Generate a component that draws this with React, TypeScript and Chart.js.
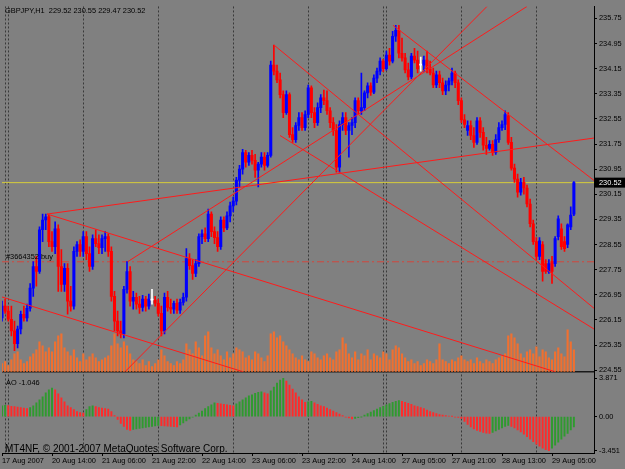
import { useEffect, useRef } from 'react';
import { Chart, registerables } from 'chart.js';

Chart.register(...registerables);

const symbol = 'GBPJPY';
const timeframe = 'H1';

// [open, high, low, close] per hourly bar
const candles: [number, number, number, number][] = [
  [226.21, 226.75, 226.11, 226.59], [226.59, 226.81, 226.36, 226.43], [226.43, 226.59, 226.11, 226.17], [226.17, 226.59, 225.64, 225.80],
  [225.80, 226.11, 225.17, 225.39], [225.39, 225.95, 225.26, 225.86], [225.86, 226.43, 225.70, 226.33], [226.33, 226.59, 226.11, 226.21],
  [226.21, 226.65, 226.11, 226.52], [226.52, 227.31, 226.43, 227.16], [227.16, 228.01, 226.90, 227.85], [227.85, 228.17, 227.22, 227.69],
  [227.69, 229.11, 227.63, 229.02], [229.02, 229.52, 228.64, 229.33], [229.33, 229.52, 229.02, 229.43], [229.43, 229.49, 228.48, 228.64],
  [228.64, 228.96, 228.33, 228.48], [228.48, 229.27, 228.26, 229.05], [229.05, 229.18, 227.06, 227.85], [227.85, 228.39, 227.06, 227.28],
  [227.28, 227.94, 227.06, 227.79], [227.79, 227.94, 226.33, 226.75], [226.75, 227.22, 226.43, 226.59], [226.59, 228.48, 226.49, 228.33],
  [228.33, 228.64, 228.17, 228.55], [228.55, 228.70, 228.17, 228.33], [228.33, 228.96, 228.17, 228.80], [228.80, 228.96, 228.07, 228.26],
  [228.26, 228.48, 227.69, 227.85], [227.85, 228.86, 227.76, 228.74], [228.74, 229.02, 228.48, 228.58], [228.58, 228.86, 228.26, 228.45],
  [228.45, 228.86, 228.26, 228.74], [228.74, 228.96, 228.33, 228.80], [228.80, 228.89, 228.17, 228.33], [228.33, 228.48, 226.75, 226.90],
  [226.90, 227.06, 225.80, 226.11], [226.11, 226.43, 225.64, 225.80], [225.80, 226.11, 225.58, 225.70], [225.70, 227.22, 225.58, 227.12],
  [227.12, 228.01, 227.00, 227.69], [227.69, 227.85, 226.59, 226.75], [226.75, 227.06, 226.49, 226.87], [226.87, 227.00, 226.49, 226.65],
  [226.65, 226.90, 226.36, 226.55], [226.55, 226.93, 226.43, 226.81], [226.81, 226.90, 226.43, 226.59], [226.59, 226.97, 226.49, 226.81],
  [226.78, 227.12, 226.65, 226.78], [226.78, 226.90, 226.59, 226.68], [226.68, 226.81, 226.27, 226.36], [226.36, 226.59, 225.64, 225.80],
  [225.80, 227.00, 225.70, 226.87], [226.87, 227.06, 226.43, 226.55], [226.55, 226.81, 226.36, 226.49], [226.49, 226.75, 226.36, 226.68],
  [226.68, 226.81, 226.36, 226.46], [226.46, 226.81, 226.36, 226.71], [226.71, 227.00, 226.62, 226.87], [226.87, 228.42, 226.75, 228.10],
  [228.10, 228.26, 227.76, 227.88], [227.88, 228.07, 227.44, 227.63], [227.63, 228.07, 227.53, 227.94], [227.94, 228.89, 227.85, 228.80],
  [228.80, 229.02, 228.58, 228.89], [228.89, 229.08, 228.64, 228.74], [228.74, 229.68, 228.64, 229.52], [229.52, 229.59, 228.80, 228.96],
  [228.96, 229.11, 228.58, 228.77], [228.77, 228.96, 228.33, 228.48], [228.48, 229.43, 228.39, 229.33], [229.33, 229.43, 228.96, 229.08],
  [229.08, 229.59, 229.02, 229.46], [229.46, 229.90, 229.27, 229.78], [229.78, 230.06, 229.59, 229.93], [229.93, 230.69, 229.81, 230.60],
  [230.60, 231.07, 230.38, 230.95], [230.95, 231.58, 230.79, 231.48], [231.48, 231.55, 231.01, 231.17], [231.17, 231.48, 231.07, 231.39],
  [231.39, 231.55, 231.11, 231.23], [231.23, 231.42, 230.69, 230.92], [230.92, 231.17, 230.38, 231.11], [231.11, 231.48, 231.01, 231.33],
  [231.33, 231.48, 230.92, 231.07], [231.07, 231.48, 231.01, 231.39], [231.39, 234.39, 231.33, 234.26], [234.26, 234.90, 233.95, 234.07],
  [234.07, 234.26, 233.70, 233.79], [233.79, 234.01, 233.22, 233.32], [233.32, 233.44, 232.59, 232.75], [232.75, 233.44, 232.69, 233.32],
  [233.32, 233.38, 231.96, 232.05], [232.05, 232.27, 231.80, 231.89], [231.89, 232.43, 231.80, 232.34], [232.34, 232.75, 232.18, 232.59],
  [232.59, 232.75, 232.18, 232.27], [232.27, 232.81, 232.18, 232.69], [232.69, 233.63, 232.59, 233.54], [233.54, 233.60, 232.59, 232.75],
  [232.75, 232.91, 232.27, 232.43], [232.43, 233.06, 232.34, 232.91], [232.91, 233.32, 232.75, 233.22], [233.22, 233.47, 233.00, 233.13],
  [233.13, 233.44, 232.69, 232.81], [232.81, 232.91, 232.27, 232.43], [232.43, 232.59, 232.02, 232.18], [232.18, 232.37, 230.85, 231.01],
  [231.01, 232.49, 230.85, 232.37], [232.37, 232.75, 232.18, 232.59], [232.59, 232.75, 232.05, 232.18], [232.18, 232.43, 231.33, 232.34],
  [232.34, 232.59, 232.05, 232.43], [232.43, 233.22, 232.27, 233.13], [233.13, 233.22, 232.69, 232.81], [232.81, 234.01, 232.69, 232.91],
  [232.91, 233.44, 232.81, 233.38], [233.38, 233.70, 233.22, 233.60], [233.60, 233.70, 233.30, 233.40], [233.40, 233.95, 233.35, 233.85],
  [233.85, 234.17, 233.70, 234.07], [234.07, 234.49, 233.95, 234.39], [234.39, 234.45, 234.05, 234.15], [234.15, 234.71, 234.10, 234.58],
  [234.58, 234.80, 234.26, 234.39], [234.39, 235.34, 234.33, 235.18], [235.18, 235.53, 235.02, 235.37], [235.37, 235.53, 234.49, 234.64],
  [234.64, 235.12, 234.39, 234.49], [234.49, 234.64, 234.01, 234.11], [234.11, 234.33, 233.79, 233.89], [233.89, 234.64, 233.82, 234.55],
  [234.55, 234.80, 234.33, 234.42], [234.42, 234.71, 234.01, 234.14], [234.26, 234.52, 234.07, 234.26], [234.26, 234.55, 234.07, 234.42],
  [234.42, 234.71, 234.01, 234.14], [234.14, 234.39, 233.95, 234.01], [234.01, 234.17, 233.54, 233.63], [233.63, 234.07, 233.54, 233.95],
  [233.95, 234.07, 233.54, 233.70], [233.70, 233.85, 233.32, 233.44], [233.44, 233.76, 233.32, 233.63], [233.63, 233.85, 233.44, 233.76],
  [233.76, 234.17, 233.63, 234.01], [234.01, 234.07, 233.54, 233.70], [233.70, 233.79, 233.00, 233.13], [233.13, 233.22, 232.43, 232.52],
  [232.52, 232.69, 232.27, 232.37], [232.18, 232.49, 232.02, 232.34], [232.34, 232.49, 231.89, 232.02], [232.02, 232.27, 231.64, 231.80],
  [231.80, 232.59, 231.74, 232.49], [232.49, 232.59, 231.96, 232.12], [232.12, 232.27, 231.55, 231.71], [231.71, 231.96, 231.42, 231.61],
  [231.61, 231.86, 231.55, 231.74], [231.74, 231.86, 231.39, 231.48], [231.48, 232.05, 231.42, 231.89], [231.89, 232.43, 231.80, 232.27],
  [232.27, 232.49, 232.18, 232.37], [232.37, 232.81, 232.21, 232.69], [232.65, 232.75, 231.74, 231.80], [231.80, 231.96, 230.92, 230.98],
  [230.98, 231.11, 230.53, 230.63], [230.63, 230.79, 230.06, 230.22], [230.22, 230.66, 230.12, 230.53], [230.53, 230.69, 230.15, 230.35],
  [230.35, 230.44, 229.75, 229.84], [229.84, 230.00, 229.11, 229.21], [229.21, 229.33, 228.55, 228.64], [228.64, 228.77, 228.07, 228.17],
  [228.17, 228.77, 228.07, 228.67], [228.55, 228.64, 227.38, 227.69], [227.94, 228.07, 227.63, 227.69], [227.69, 228.07, 227.63, 227.94],
  [228.01, 228.17, 227.31, 227.69], [227.94, 228.80, 227.85, 228.74], [228.80, 229.46, 228.70, 229.37], [229.05, 229.21, 228.39, 228.48],
  [228.64, 228.80, 228.33, 228.42], [228.55, 229.21, 228.45, 229.18], [229.11, 229.75, 229.02, 229.49], [229.52, 230.55, 229.47, 230.52],
];

const volumes = [
  240, 300, 180, 360, 540, 600, 360, 240, 300, 450,
  540, 660, 900, 780, 600, 720, 600, 900, 1080, 1140,
  720, 600, 480, 660, 420, 300, 540, 360, 450, 540,
  420, 300, 360, 420, 480, 780, 1140, 840, 720, 900,
  780, 540, 360, 300, 240, 360, 180, 300, 150, 240,
  360, 660, 480, 300, 240, 180, 300, 240, 360, 840,
  660, 540, 900, 720, 480, 1080, 1200, 720, 540, 660,
  480, 360, 600, 420, 540, 720, 660, 600, 420, 480,
  360, 600, 540, 420, 300, 480, 1140, 1200, 1020, 1080,
  900, 780, 660, 540, 420, 360, 480, 360, 300, 600,
  540, 420, 360, 480, 540, 420, 360, 600, 660, 1020,
  840, 540, 420, 600, 360, 540, 480, 660, 360, 540,
  480, 420, 600, 540, 360, 660, 780, 720, 540, 420,
  300, 360, 240, 300, 180, 240, 360, 300, 240, 360,
  840, 360, 300, 240, 360, 300, 420, 480, 360, 300,
  360, 240, 420, 300, 240, 360, 300, 240, 360, 420,
  480, 540, 1080, 1140, 1020, 840, 540, 420, 600, 660,
  540, 750, 450, 660, 600, 420, 360, 600, 720, 540,
  450, 1260, 900, 660,
];

const aoValues = [
  1.10, 1.15, 1.12,
  1.05, 1.00, 0.95, 0.90, 0.85, 0.80,
  0.90, 1.10, 1.40, 1.70, 2.00,
  2.40, 2.70, 2.90,
  2.70, 2.30, 1.90, 1.50, 1.10,
  0.90, 0.70, 0.50, 0.40, 0.35,
  0.70, 1.00, 1.10,
  1.00, 0.90, 0.85, 0.80, 0.75,
  0.50, 0.10,
  -0.30, -0.70, -1.00, -1.30, -1.40,
  -1.30, -1.25, -1.20, -1.15, -1.10, -1.05, -1.00, -0.95, -0.90,
  -0.92, -0.95, -0.98, -1.00, -1.02, -1.04,
  -0.85, -0.65, -0.45, -0.25, -0.05,
  0.15, 0.35, 0.55, 0.80, 1.00, 1.20, 1.40,
  1.35, 1.30, 1.25, 1.20, 1.15, 1.10,
  1.30, 1.50, 1.70, 1.90, 2.10, 2.20, 2.35, 2.45, 2.50,
  2.40, 2.30,
  2.60, 3.00, 3.40, 3.70, 3.871,
  3.60, 3.20, 2.80, 2.40, 2.00, 1.70, 1.45, 1.50, 1.55,
  1.40, 1.25, 1.10, 1.00, 0.85, 0.70, 0.55, 0.40,
  0.25, 0.10, -0.05, -0.15, -0.25,
  -0.20, -0.12, -0.02,
  0.15, 0.30, 0.45, 0.60, 0.75, 0.90, 1.05, 1.20, 1.32, 1.45, 1.55, 1.62,
  1.55, 1.45, 1.35, 1.25, 1.10, 1.00, 0.90, 0.80, 0.65, 0.50, 0.40, 0.30,
  0.20, 0.15, 0.10, 0.05, 0.02, -0.05, -0.10, -0.20,
  -0.50, -0.80, -1.05, -1.25, -1.40, -1.52, -1.62, -1.68, -1.72,
  -1.60, -1.45, -1.30, -1.15, -1.00, -0.90,
  -1.00, -1.15, -1.35, -1.55, -1.80, -2.05, -2.30, -2.55, -2.80, -3.00, -3.20, -3.35, -3.451,
  -3.20, -2.90, -2.60, -2.30, -2.00, -1.70, -1.35, -1.046,
];

const timeLabelIndex = [0, 16, 32, 48, 64, 80, 96, 112, 128, 144, 160, 176];
const timeLabels = [
  '17 Aug 2007', '20 Aug 14:00', '21 Aug 06:00', '21 Aug 22:00', '22 Aug 14:00', '23 Aug 06:00',
  '23 Aug 22:00', '24 Aug 14:00', '27 Aug 05:00', '27 Aug 21:00', '28 Aug 13:00', '29 Aug 05:00',
];
const dayStartIndex = [1, 2, 26, 50, 74, 98, 122, 123, 147, 171];
const priceTicks = [235.75, 234.95, 234.15, 233.35, 232.55, 231.75, 230.95, 230.15, 229.35, 228.55, 227.75, 226.95, 226.15, 225.35, 224.55];
const aoTicks = [3.871, 0, -3.451];
const bidPrice = 230.52;
const orderPrice = 228.0;
const orderLabel = '#3664352 buy';
const copyright = 'MT4NF, \u00A9 2001-2007 MetaQuotes Software Corp.';

// trend lines: [startBar, startPrice, endBar, endPrice]
const trendLines: [number, number, number, number][] = [
  [14.4, 229.52, 189.44, 231.94],
  [14.4, 229.52, 176.96, 224.5],
  [0, 226.88, 77.12, 224.5],
  [125.12, 235.53, 189.44, 230.59],
  [87.04, 234.9, 189.44, 226.52],
  [88.96, 232.02, 189.44, 225.86],
  [39.36, 224.5, 155.2, 236.13],
  [40.32, 228.01, 168, 236.13],
];

const priceMin = 224.503;
const priceMax = 236.13;
const aoMin = -3.7;
const aoMax = 4.56;
const barMax = 189.44;
const volMax = 11040;

export default function App() {
  const ref = useRef<HTMLCanvasElement>(null);

  useEffect(() => {
    const canvas = ref.current;
    if (!canvas) return;
    const fontFamily = '"Liberation Sans", Arial, sans-serif';
    const font = { family: fontFamily, size: 7.4 };

    const candleColor = candles.map(([o, , , c]) => (c > o ? '#0000ff' : c < o ? '#ff0000' : '#ffffff'));
    const aoColor = aoValues.map((v, i) => (i === 0 || v > aoValues[i - 1] ? '#2f9a2f' : '#ff2a2a'));

    const alignVol = {
      id: 'alignVol',
      afterLayout(chart: any) {
        const v = chart.scales.yVol;
        const m = chart.scales.y;
        if (!v || !m) return;
        v.top = m.top;
        v.bottom = m.bottom;
        v.height = m.bottom - m.top;
        v.left = m.left;
        v.right = m.left;
        v.configure();
      },
    };

    const overlay = {
      id: 'overlay',
      afterDraw(chart: any) {
        const ctx = chart.ctx as CanvasRenderingContext2D;
        const y = chart.scales.y;
        const ao = chart.scales.yAO;
        const left = chart.chartArea.left;
        const last = candles[candles.length - 1];
        ctx.save();
        ctx.textBaseline = 'middle';
        ctx.textAlign = 'left';
        ctx.fillStyle = '#000';
        ctx.font = `7.4px ${fontFamily}`;
        ctx.fillText(`${symbol},${timeframe}  ${last.map((v) => v.toFixed(2)).join(' ')}`, left + 3, y.top + 5);
        ctx.fillText(`AO ${aoValues[aoValues.length - 1].toFixed(3)}`, left + 4, ao.top + 11);
        ctx.fillText(orderLabel, left + 4, y.getPixelForValue(orderPrice) - 5);
        ctx.font = `10px ${fontFamily}`;
        ctx.fillText(copyright, left + 3, ao.bottom - 4);
        const py = y.getPixelForValue(bidPrice);
        ctx.fillStyle = '#000';
        ctx.fillRect(y.left + 1, py - 5, 30, 10);
        ctx.fillStyle = '#fff';
        ctx.font = `7.4px ${fontFamily}`;
        ctx.fillText(bidPrice.toFixed(2), y.left + 5, py);
        ctx.restore();
      },
    };

    const datasets: any[] = [
      {
        type: 'bar',
        label: 'Volume',
        yAxisID: 'yVol',
        data: volumes.map((v, i) => ({ x: i, y: v })),
        backgroundColor: '#f07030',
        barThickness: 1.5,
        grouped: false,
        order: 10,
      },
      {
        type: 'bar',
        label: 'AO',
        yAxisID: 'yAO',
        data: aoValues.map((v, i) => ({ x: i, y: v })),
        backgroundColor: aoColor,
        barThickness: 1.3,
        grouped: false,
        order: 9,
      },
      {
        type: 'line',
        label: 'Bid',
        yAxisID: 'y',
        data: [{ x: 0, y: bidPrice }, { x: barMax, y: bidPrice }],
        borderColor: '#d6cc3a',
        borderWidth: 1,
        pointRadius: 0,
        order: 8,
      },
      {
        type: 'line',
        label: 'Order',
        yAxisID: 'y',
        data: [{ x: 0, y: orderPrice }, { x: barMax, y: orderPrice }],
        borderColor: 'rgb(210,70,60)',
        borderWidth: 1,
        borderDash: [7, 3, 2, 3],
        pointRadius: 0,
        order: 8,
      },
      {
        type: 'bar',
        label: 'Wicks',
        yAxisID: 'y',
        data: candles.map(([, h, l], i) => ({ x: i, y: [l, h] })),
        backgroundColor: candleColor,
        barThickness: 1,
        grouped: false,
        order: 6,
      },
      {
        type: 'bar',
        label: 'Bodies',
        yAxisID: 'y',
        data: candles.map(([o, , , c], i) => ({ x: i, y: [o, c] })),
        backgroundColor: candleColor,
        barThickness: 2.4,
        minBarLength: 1,
        grouped: false,
        order: 5,
      },
      ...trendLines.map(([x1, p1, x2, p2], k) => ({
        type: 'line',
        label: `Trend ${k + 1}`,
        yAxisID: 'y',
        data: [{ x: x1, y: p1 }, { x: x2, y: p2 }],
        borderColor: '#ff1a1a',
        borderWidth: 1,
        pointRadius: 0,
        order: 1,
      })),
    ];

    const chart = new Chart(canvas, {
      type: 'bar',
      data: { datasets },
      plugins: [alignVol, overlay],
      options: {
        animation: false,
        responsive: false,
        devicePixelRatio: 1,
        layout: { padding: { left: 2, top: 3, right: 0, bottom: 0 } },
        plugins: { legend: { display: false }, tooltip: { enabled: false }, title: { display: false } },
        scales: {
          x: {
            type: 'linear',
            min: 0,
            max: barMax,
            offset: false,
            afterBuildTicks: (s: any) => {
              const vals = Array.from(new Set([...timeLabelIndex, ...dayStartIndex])).sort((a, b) => a - b);
              s.ticks = vals.map((v) => ({ value: v }));
            },
            afterFit: (s: any) => {
              s.height = 16;
            },
            ticks: {
              autoSkip: false,
              maxRotation: 0,
              minRotation: 0,
              align: 'start',
              padding: 1,
              color: '#000',
              font,
              callback: (v: any) => {
                const k = timeLabelIndex.indexOf(Number(v));
                return k >= 0 ? timeLabels[k] : '';
              },
            },
            grid: {
              offset: false,
              drawTicks: true,
              tickLength: 3,
              lineWidth: 1,
              color: (c: any) => (c.tick && dayStartIndex.includes(c.tick.value) ? '#3a3a3a' : 'rgba(0,0,0,0)'),
              tickColor: (c: any) => (c.tick && timeLabelIndex.includes(c.tick.value) ? '#000' : 'rgba(0,0,0,0)'),
              tickBorderDash: [],
            },
            border: { display: true, color: '#000', width: 1, dash: [2, 2] },
          },
          y: {
            type: 'linear',
            position: 'right',
            stack: 'panes',
            stackWeight: 368,
            min: priceMin,
            max: priceMax,
            afterBuildTicks: (s: any) => {
              s.ticks = priceTicks.map((v) => ({ value: v }));
            },
            afterFit: (s: any) => {
              s.width = 31;
            },
            ticks: {
              color: '#000',
              font,
              padding: 2,
              callback: (v: any) => Number(v).toFixed(2),
            },
            grid: { drawOnChartArea: false, drawTicks: true, tickLength: 3, tickColor: '#000' },
            border: { display: true, color: '#000', width: 1 },
          },
          yAO: {
            type: 'linear',
            position: 'right',
            stack: 'panes',
            stackWeight: 82,
            min: aoMin,
            max: aoMax,
            afterBuildTicks: (s: any) => {
              s.ticks = [aoMax, ...aoTicks].map((v) => ({ value: v }));
            },
            afterFit: (s: any) => {
              s.width = 31;
            },
            ticks: {
              color: '#000',
              font,
              padding: 2,
              callback: (v: any) => {
                const n = Number(v);
                if (n === aoMax) return '';
                return n === 0 ? '0.00' : n.toFixed(3);
              },
            },
            grid: {
              drawOnChartArea: true,
              drawTicks: true,
              tickLength: 3,
              lineWidth: (c: any) => (c.tick && c.tick.value === aoMax ? 1.5 : 1),
              color: (c: any) => (c.tick && c.tick.value === aoMax ? '#1a1a1a' : 'rgba(0,0,0,0)'),
              tickColor: (c: any) => (c.tick && c.tick.value === aoMax ? 'rgba(0,0,0,0)' : '#000'),
            },
            border: { display: true, color: '#000', width: 1 },
          },
          yVol: {
            type: 'linear',
            display: false,
            position: 'right',
            min: 0,
            max: volMax,
          },
        },
      } as any,
    });

    return () => chart.destroy();
  }, []);

  return (
    <div style={{ position: 'fixed', left: 0, top: 0, width: 625, height: 469, background: '#808080' }}>
      <canvas ref={ref} width={625} height={469} style={{ display: 'block' }} />
    </div>
  );
}
